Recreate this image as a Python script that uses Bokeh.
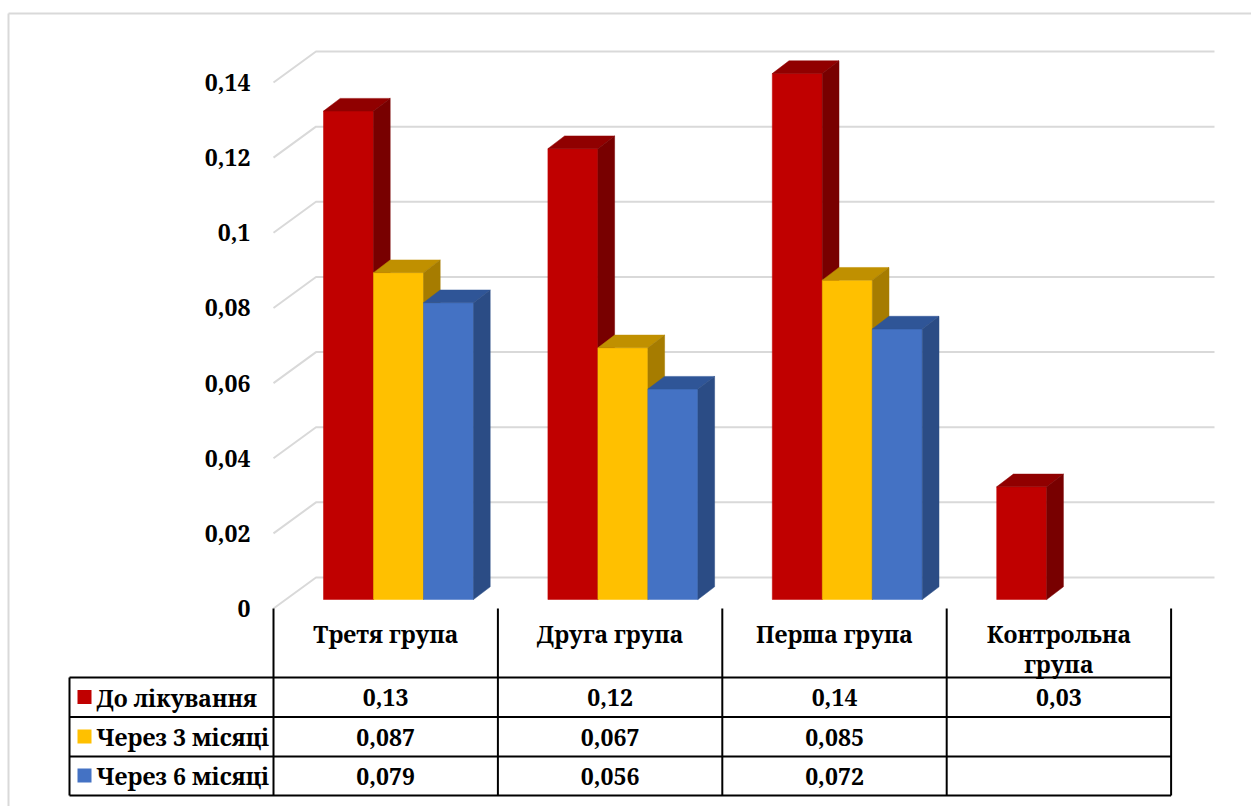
from bokeh.plotting import figure
from bokeh.models import Range1d
from bokeh.core.properties import value
from bokeh.embed import file_html
from bokeh.resources import INLINE

# ---------------- data ----------------
categories = ["Третя група", "Друга група", "Перша група", "Контрольна група"]
series_names = ["До лікування", "Через 3 місяці", "Через 6 місяці"]
before_treatment = [0.13, 0.12, 0.14, 0.03]
after_3_months = [0.087, 0.067, 0.085, None]
after_6_months = [0.079, 0.056, 0.072, None]
y_ticks = [0, 0.02, 0.04, 0.06, 0.08, 0.10, 0.12, 0.14]

series = [before_treatment, after_3_months, after_6_months]
front_colors = ["#C00000", "#FFC000", "#4472C4"]
top_colors = ["#900000", "#C09000", "#2F5597"]
side_colors = ["#780000", "#A67C00", "#2B4C85"]

FONT = value("Noto Serif")
FSIZE = "23px"

# ---------------- geometry (screen pixels -> data units) ----------------
W, H = 1251, 806
PX0, CW = 273.0, 224.4      # left edge of first category, pixels per category
PY0, S = 599.0, 3757.0      # pixel of value 0 on bar front plane, pixels per unit


def X(px):
    return (px - PX0) / CW


def Y(py):
    return (PY0 - py) / S


p = figure(width=W, height=H, x_range=Range1d(X(0), X(W)), y_range=Range1d(Y(H), Y(0)),
           output_backend="svg", toolbar_location=None, min_border=0,
           x_axis_location=None, y_axis_location=None, outline_line_color=None,
           background_fill_color="white", border_fill_color="white")
p.grid.visible = False

# outer chart-area border (top and left edges visible)
p.multi_line(xs=[[X(8), X(W + 5)], [X(8), X(8)]], ys=[[Y(13), Y(13)], [Y(13), Y(H + 5)]],
             line_color="#D9D9D9", line_width=2)

# ---------------- gridlines (3D back wall + left wall) ----------------
FRONT_OFF = 9.0 / S     # front edge lies 9 px below bar plane
BACK_OFF = 22.0 / S     # back wall lies 22 px above bar plane
gx, gy = [], []
for v in y_ticks:
    gx.append([X(273), X(315.5), X(1214)])
    gy.append([v - FRONT_OFF, v + BACK_OFF, v + BACK_OFF])
p.multi_line(xs=gx, ys=gy, line_color="#D9D9D9", line_width=2)

tick_labels = [f"{v:g}".replace(".", ",") for v in y_ticks]
p.text(x=[X(250)] * len(y_ticks), y=[v - FRONT_OFF for v in y_ticks], text=tick_labels,
       text_align="right", text_baseline="middle", text_font=FONT,
       text_font_style="bold", text_font_size=FSIZE, text_color="black")

# ---------------- 3D bars ----------------
BW = 50.0 / CW
GAP = 50.0 / CW
DDX = 16.7 / CW
DDY = 12.7 / S
pxs, pys, pcol = [], [], []
for i in range(len(categories)):
    for s, vals in enumerate(series):
        v = vals[i]
        if v is None:
            continue
        x0 = i + GAP + s * BW
        x1 = x0 + BW
        # front face
        pxs.append([x0, x1, x1, x0]); pys.append([0, 0, v, v]); pcol.append(front_colors[s])
        # top face
        pxs.append([x0, x0 + DDX, x1 + DDX, x1]); pys.append([v, v + DDY, v + DDY, v]); pcol.append(top_colors[s])
        # side face
        pxs.append([x1, x1 + DDX, x1 + DDX, x1]); pys.append([0, DDY, v + DDY, v]); pcol.append(side_colors[s])
p.patches(xs=pxs, ys=pys, fill_color=pcol, line_color=pcol, line_width=0.5)

# ---------------- data table ----------------
col_edges = [X(273) + k for k in range(len(categories) + 1)]
row_lines = [677.0, 716.5, 756.0, 795.0]
header_top = 608.0
legend_left = X(69)

seg_x, seg_y = [], []
for ce in col_edges:
    seg_x.append([ce, ce]); seg_y.append([Y(header_top), Y(row_lines[-1])])
seg_x.append([legend_left, legend_left]); seg_y.append([Y(row_lines[0]), Y(row_lines[-1])])
for rl in row_lines:
    seg_x.append([legend_left, col_edges[-1]]); seg_y.append([Y(rl), Y(rl)])
p.multi_line(xs=seg_x, ys=seg_y, line_color="black", line_width=2)

MID = 8.5  # px from baseline up to text middle
hx, hy, ht = [], [], []
for i, c in enumerate(categories):
    lines = [c] if len(c) <= 12 else c.split(" ")
    for k, ln in enumerate(lines):
        hx.append(i + 0.5); hy.append(Y(642 + 30 * k - MID)); ht.append(ln)
p.text(x=hx, y=hy, text=ht, text_align="center", text_baseline="middle",
       text_font=FONT, text_font_style="bold", text_font_size=FSIZE, text_color="black")

vx, vy, vt = [], [], []
lx, ly, lt = [], [], []
kl, kr, kt, kb, kc = [], [], [], [], []
for s, vals in enumerate(series):
    base = row_lines[s + 1] - 11
    for i, v in enumerate(vals):
        if v is None:
            continue
        vx.append(i + 0.5); vy.append(Y(base - MID)); vt.append(f"{v:g}".replace(".", ","))
    lx.append(X(96)); ly.append(Y(base - MID)); lt.append(series_names[s])
    kl.append(X(77)); kr.append(X(91)); kt.append(Y(base - 16)); kb.append(Y(base - 2)); kc.append(front_colors[s])

p.text(x=vx, y=vy, text=vt, text_align="center", text_baseline="middle",
       text_font=FONT, text_font_style="bold", text_font_size=FSIZE, text_color="black")
p.text(x=lx, y=ly, text=lt, text_align="left", text_baseline="middle",
       text_font=FONT, text_font_style="bold", text_font_size=FSIZE, text_color="black")
p.quad(left=kl, right=kr, top=kt, bottom=kb, fill_color=kc, line_color=None)

open("out.html", "w").write(file_html(p, INLINE))
